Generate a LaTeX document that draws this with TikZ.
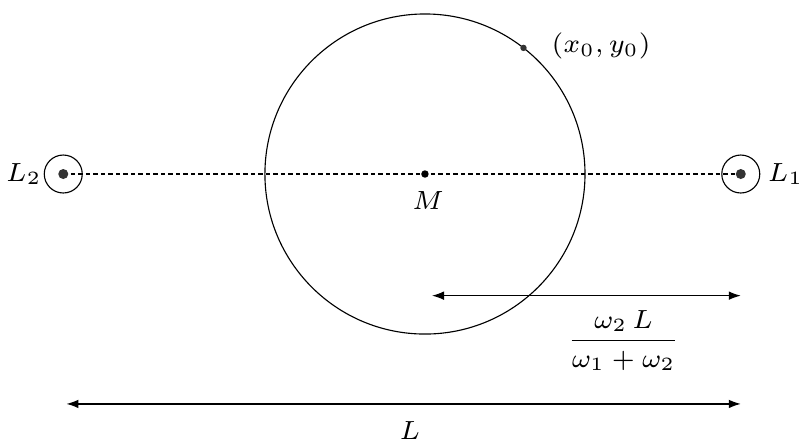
\documentclass[tikz,border=0pt]{standalone}
\usepackage{amsmath,amssymb}
\usetikzlibrary{arrows.meta,calc}

\begin{document}
\begin{tikzpicture}[font=\scriptsize, line width=0.3pt]
        \tikzset{dim/.style={{Latex[length=3.2pt, width=2.3pt]}-{Latex[length=3.2pt, width=2.3pt]}},
                 mass/.style={circle, fill=black!80, inner sep=0pt, minimum size=0.094cm}}
        \useasboundingbox (-3.983,-2.493) rectangle (3.543,1.631);
        % masses on the axis
        \coordinate (M) at (0,0);
        \coordinate (L1) at (2.96,0);
        \coordinate (L2) at (-3.39,0);
        \draw[dash pattern=on 1.2pt off 0.8pt] (L2) -- (L1);
        \draw (M) circle (1.5);
        \node[mass, fill=black, minimum size=0.07cm] (Mdot) at (M) {};
        \node (Mlbl) at (0.03,-0.25) {$M$};
        
        \draw (L1) circle (0.178);
        \node[mass] (L1dot) at (L1) {};
        \node (L1lbl) at (3.38,0) {$L_1$};
        \draw (L2) circle (0.178);
        \node[mass] (L2dot) at (L2) {};
        \node (L2lbl) at (-3.76,0) {$L_2$};
        
        % point on the orbit
        \node[mass, minimum size=0.06cm] (P) at (52:1.5) {};
        \node (Plbl) at (1.65,1.2) {$(x_0,y_0)$};
        
        % distances
        \coordinate (a1) at (0.066,-1.14);
        \coordinate (a2) at (2.96,-1.14);
        \draw[dim] (a1) -- (a2);
        \node (frac) at (1.86,-1.56) {$\dfrac{\omega_2\,L}{\omega_1+\omega_2}$};
        \coordinate (b1) at (-3.36,-2.155);
        \coordinate (b2) at (2.96,-2.155);
        \draw[dim] (b1) -- (b2);
        \node (Llbl) at (-0.14,-2.4) {$L$};
\end{tikzpicture}
\end{document}
